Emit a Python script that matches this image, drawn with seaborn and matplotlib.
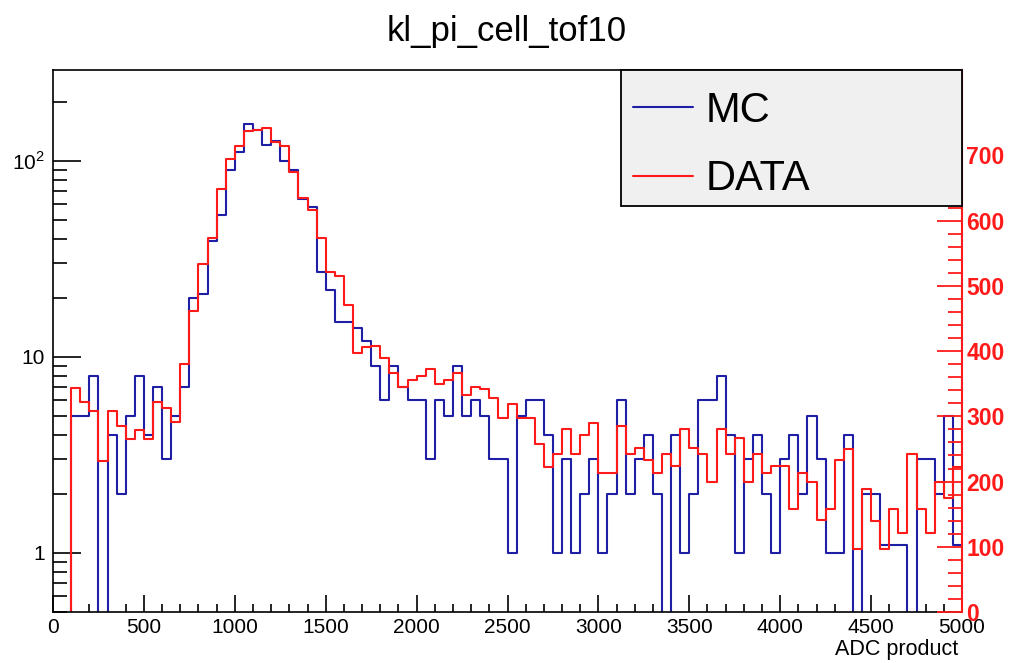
import numpy as np
import pandas as pd
import matplotlib
matplotlib.use("Agg")
import matplotlib.pyplot as plt
import seaborn as sns
from matplotlib.patches import Rectangle
from matplotlib.lines import Line2D
from matplotlib.ticker import FixedLocator, FixedFormatter, MultipleLocator, NullFormatter

# ---------------- data ----------------
bin_width = 50
x_range = (0, 5000)

mc_counts = [
    0, 0, 5, 5, 8, 0, 4, 2, 5, 8,
    4, 7, 3, 5, 7, 20, 21, 39, 53, 90,
    111, 154, 144, 120, 126, 100, 90, 64, 58, 27,
    22, 15, 15, 14, 12, 9, 6, 9, 7, 6,
    6, 3, 6, 5, 9, 5, 6, 5, 3, 3,
    1, 5, 6, 6, 4, 1, 3, 1, 2, 3,
    1, 2, 6, 2, 3, 4, 2, 0, 4, 1,
    2, 6, 6, 8, 4, 1, 3, 4, 2, 1,
    3, 4, 2, 5, 3, 1, 1, 4, 0, 2,
    2, 1.1, 1.1, 1.1, 0, 3, 3, 2, 5, 1.1,
]

# DATA, scaled to MC normalisation (left axis units)
data_counts = [
    0, 0, 6.95, 5.87, 5.28, 2.96, 5.28, 4.43, 3.81, 4.26,
    3.81, 5.87, 5.5, 4.64, 9.2, 17.2, 29.8, 40.3, 71.7, 102,
    119, 141, 144, 147, 124, 119, 88, 64.5, 56.2, 40.3,
    27.2, 25.7, 18.3, 10.5, 11.2, 11.4, 9.85, 8.3, 7.0, 7.63,
    7.94, 8.65, 7.28, 7.63, 8.26, 6.4, 7.0, 6.84, 6.15, 4.86,
    5.75, 4.86, 4.86, 3.6, 2.74, 3.19, 4.29, 3.19, 4.0, 4.62,
    2.55, 2.55, 4.46, 3.19, 3.42, 2.98, 2.55, 3.19, 2.76, 4.29,
    3.42, 3.19, 2.29, 4.29, 3.19, 3.85, 2.29, 3.19, 2.55, 2.76,
    2.76, 1.68, 2.55, 2.29, 1.47, 1.68, 2.98, 3.4, 1.05, 2.11,
    1.46, 1.05, 1.68, 1.27, 3.19, 1.68, 1.27, 2.31, 1.9, 2.74,
]

left_tick_values = [1, 10, 100]
left_tick_labels = ["1", "10", "$10^{2}$"]
right_tick_values = [0, 100, 200, 300, 400, 500, 600, 700]
right_axis_max = 831
series_names = ["MC", "DATA"]
title_text = "kl_pi_cell_tof10"
x_label = "ADC product"

MC_COLOR = "#1f1fa6"
DATA_COLOR = "#ff1a1a"

# ---------------- figure ----------------
sns.set_theme(style="white")
plt.rcParams["font.family"] = ["Liberation Sans", "DejaVu Sans"]
plt.rcParams["mathtext.fontset"] = "custom"
plt.rcParams["mathtext.rm"] = "Liberation Sans"
plt.rcParams["text.color"] = "black"
plt.rcParams["xtick.color"] = "black"
plt.rcParams["ytick.color"] = "black"
plt.rcParams["axes.labelcolor"] = "black"

fig = plt.figure(figsize=(10.11, 6.63), dpi=100)
ax = fig.add_axes([53 / 1011, 51 / 663, 909 / 1011, 542 / 663])

n_bins = len(mc_counts)
centers = x_range[0] + bin_width * (np.arange(n_bins) + 0.5)
df = pd.DataFrame({"adc": centers, "MC": mc_counts, "DATA": data_counts})

sns.histplot(data=df, x="adc", weights="MC", binwidth=bin_width, binrange=x_range,
             element="step", fill=False, color=MC_COLOR, linewidth=1.5, ax=ax)
sns.histplot(data=df, x="adc", weights="DATA", binwidth=bin_width, binrange=x_range,
             element="step", fill=False, color=DATA_COLOR, linewidth=1.5, ax=ax)

ax.set_yscale("log", nonpositive="clip")
ax.set_xlim(*x_range)
ax.set_ylim(0.5, 290)
ax.set_xlabel("")
ax.set_ylabel("")

ax.xaxis.set_major_locator(MultipleLocator(500))
ax.xaxis.set_minor_locator(MultipleLocator(100))
ax.yaxis.set_major_locator(FixedLocator(left_tick_values))
ax.yaxis.set_major_formatter(FixedFormatter(left_tick_labels))
minor_y = [v * m for v in [0.1, 1, 10, 100] for m in range(2, 10)]
ax.yaxis.set_minor_locator(FixedLocator(minor_y))
ax.yaxis.set_minor_formatter(NullFormatter())

ax.tick_params(axis="x", which="major", direction="in", length=12, width=1.2,
               labelsize=15, pad=4, colors="black", bottom=True, top=False)
ax.tick_params(axis="x", which="minor", direction="in", length=6, width=1.2,
               bottom=True, top=False)
ax.tick_params(axis="y", which="major", direction="in", length=20, width=1.2,
               labelsize=15, pad=6, colors="black", left=True, right=False)
ax.tick_params(axis="y", which="minor", direction="in", length=10, width=1.2,
               left=True, right=False)

for side in ["left", "bottom", "top"]:
    ax.spines[side].set_color("black")
    ax.spines[side].set_linewidth(1.2)
ax.spines["right"].set_visible(False)

# right (red) axis
ax2 = ax.twinx()
ax2.set_ylim(0, right_axis_max)
ax2.yaxis.set_major_locator(FixedLocator(right_tick_values))
ax2.yaxis.set_minor_locator(MultipleLocator(20))
ax2.tick_params(axis="y", which="major", direction="in", length=18, width=1.3,
                colors=DATA_COLOR, labelsize=16.5, pad=3)
ax2.tick_params(axis="y", which="minor", direction="in", length=10, width=1.3,
                colors=DATA_COLOR)
for lab in ax2.get_yticklabels():
    lab.set_fontweight("bold")
ax2.spines["right"].set_color(DATA_COLOR)
ax2.spines["right"].set_linewidth(1.5)
for side in ["left", "bottom", "top"]:
    ax2.spines[side].set_visible(False)
ax2.grid(False)
ax.grid(False)

# legend box (ROOT TLegend style)
x0 = (621 - 53) / 909
y0 = (612 - 206) / 542
box = Rectangle((x0, y0), 1 - x0, 1 - y0, transform=ax2.transAxes,
                facecolor="#f0f0f0", edgecolor="black", linewidth=1.3,
                zorder=20, clip_on=False)
ax2.add_patch(box)
handles = [Line2D([], [], color=MC_COLOR, lw=1.5),
           Line2D([], [], color=DATA_COLOR, lw=1.5)]
leg = ax2.legend(handles, series_names, loc="upper left",
                 bbox_to_anchor=((633 - 53) / 909, (612 - 91) / 542),
                 frameon=False, fontsize=30, handlelength=1.45,
                 handletextpad=0.3, labelspacing=0.68, borderpad=0,
                 borderaxespad=0)
for t in leg.get_texts():
    t.set_color("black")
leg.set_zorder(30)

fig.text(507 / 1011, 1 - 31 / 663, title_text, ha="center", va="center",
         fontsize=25, color="black")
fig.text(958 / 1011, 1 - 650 / 663, x_label, ha="right", va="center",
         fontsize=15.5, color="black")

fig.savefig("out.png", dpi=100)
